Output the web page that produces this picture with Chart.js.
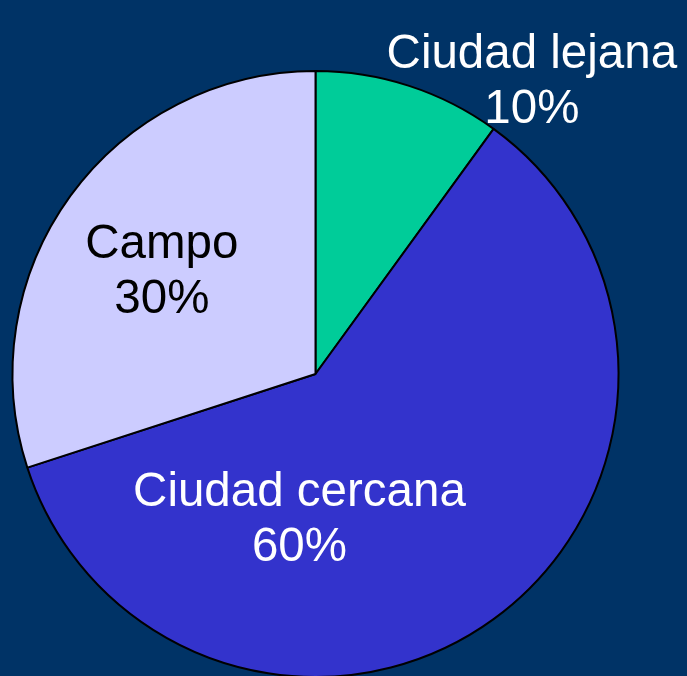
<!DOCTYPE html>
<html>
<head>
<meta charset="utf-8">
<script src="https://cdn.jsdelivr.net/npm/chart.js@4/dist/chart.umd.min.js"></script>
<style>
  html, body { margin: 0; padding: 0; background: #003366; overflow: hidden; }
  #wrap { position: absolute; left: 0; top: 0; width: 687px; height: 700px; }
</style>
</head>
<body>
<div id="wrap"><canvas id="pie"></canvas></div>
<script>
// chart data
const categories = ['Ciudad lejana', 'Ciudad cercana', 'Campo'];
const shares = [10, 60, 30];
const sliceColors = ['#00CC99', '#3333CC', '#CCCCFF'];
const labelColors = ['#FFFFFF', '#FFFFFF', '#000000'];

// where each label block sits, as a fraction of the radius from the pie centre
const labelOffsets = [[0.714, -0.965], [-0.053, 0.48], [-0.507, -0.336]];

const sliceLabels = {
    id: 'sliceLabels',
    afterDatasetsDraw(chart) {
        const ctx = chart.ctx;
        const arcs = chart.getDatasetMeta(0).data;
        ctx.save();
        ctx.font = '47.5px "Liberation Sans", Arial, sans-serif';
        ctx.textAlign = 'center';
        ctx.textBaseline = 'middle';
        arcs.forEach((arc, i) => {
            const r = arc.outerRadius;
            const x = arc.x + labelOffsets[i][0] * r;
            const y = arc.y + labelOffsets[i][1] * r;
            ctx.fillStyle = labelColors[i];
            ctx.fillText(categories[i], x, y - 27);
            ctx.fillText(shares[i] + '%', x, y + 28);
        });
        ctx.restore();
    }
};

new Chart(document.getElementById('pie'), {
    type: 'pie',
    data: {
        labels: categories,
        datasets: [{
            data: shares,
            backgroundColor: sliceColors,
            borderColor: '#000000',
            borderWidth: 2
        }]
    },
    options: {
        responsive: true,
        maintainAspectRatio: false,
        animation: false,
        layout: { padding: { left: 11, top: 70, right: 67, bottom: 22 } },
        plugins: {
            legend: { display: false },
            tooltip: { enabled: false }
        }
    },
    plugins: [sliceLabels]
});
</script>
</body>
</html>
